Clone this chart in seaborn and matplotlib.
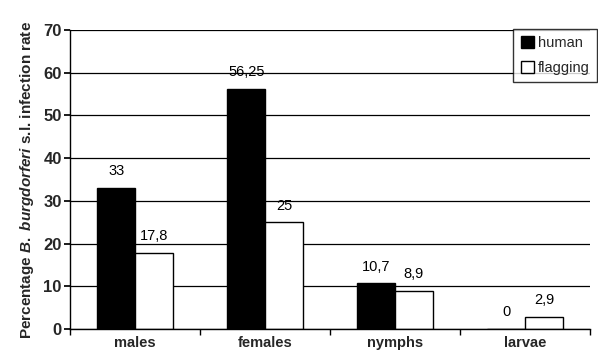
import matplotlib

matplotlib.use("Agg")

import matplotlib.pyplot as plt
import pandas as pd
import seaborn as sns
from matplotlib.ticker import FixedLocator

STAGES = ["males", "females", "nymphs", "larvae"]
METHODS = ["human", "flagging"]
HUMAN_RATE = [33, 56.25, 10.7, 0]
FLAGGING_RATE = [17.8, 25, 8.9, 2.9]
HUMAN_LABELS = ["33", "56,25", "10,7", "0"]
FLAGGING_LABELS = ["17,8", "25", "8,9", "2,9"]
Y_TICKS = [0, 10, 20, 30, 40, 50, 60, 70]

sns.set_theme(style="white")
plt.rcParams["font.family"] = ["Liberation Sans", "DejaVu Sans"]
plt.rcParams["mathtext.fontset"] = "custom"
plt.rcParams["mathtext.rm"] = "Liberation Sans:bold"
plt.rcParams["mathtext.it"] = "Liberation Sans:bold:italic"
plt.rcParams["mathtext.bf"] = "Liberation Sans:bold"

df = pd.DataFrame({
    "stage": STAGES * 2,
    "method": [METHODS[0]] * 4 + [METHODS[1]] * 4,
    "rate": HUMAN_RATE + FLAGGING_RATE,
})

fig = plt.figure(figsize=(5.98, 3.57), dpi=100)
ax = fig.add_axes([0.117, 0.078, 0.87, 0.838])

sns.barplot(
    data=df, x="stage", y="rate", hue="method", order=STAGES, hue_order=METHODS,
    palette={"human": "black", "flagging": "white"}, edgecolor="black",
    linewidth=1.0, width=0.58, ax=ax, legend=True,
)

for container, labels in zip(ax.containers, [HUMAN_LABELS, FLAGGING_LABELS]):
    ax.bar_label(container, labels=labels, padding=7, fontsize=10.5, color="black")

ax.set_ylim(0, 70)
ax.set_xlim(-0.5, 3.5)
ax.set_yticks(Y_TICKS)
ax.yaxis.grid(True, color="black", linewidth=0.9)
ax.set_axisbelow(True)
for side in ["top", "right"]:
    ax.spines[side].set_visible(False)
for side in ["left", "bottom"]:
    ax.spines[side].set_color("black")
    ax.spines[side].set_linewidth(1.0)

ax.xaxis.set_minor_locator(FixedLocator([-0.5, 0.5, 1.5, 2.5, 3.5]))
ax.tick_params(axis="x", which="major", length=0, pad=5, labelsize=10.5)
ax.tick_params(axis="x", which="minor", length=4, color="black", direction="out", bottom=True)
ax.tick_params(axis="y", length=4, color="black", direction="out", left=True, labelsize=12, pad=2)
for lbl in ax.get_xticklabels() + ax.get_yticklabels():
    lbl.set_fontweight("bold")

ax.set_xlabel("")
ax.set_ylabel(r"Percentage $B.\ burgdorferi$ s.l. infection rate",
              fontsize=11, fontweight="bold", labelpad=5)

leg = ax.legend(loc="upper right", bbox_to_anchor=(0.999, 0.92),
                bbox_transform=fig.transFigure, frameon=True,
                fancybox=False, edgecolor="black", fontsize=10.5,
                handlelength=0.9, handleheight=0.9, handletextpad=0.3,
                borderpad=0.5, labelspacing=0.75, borderaxespad=0.0)
leg.get_frame().set_linewidth(1.0)

fig.savefig("out.png", dpi=100)
